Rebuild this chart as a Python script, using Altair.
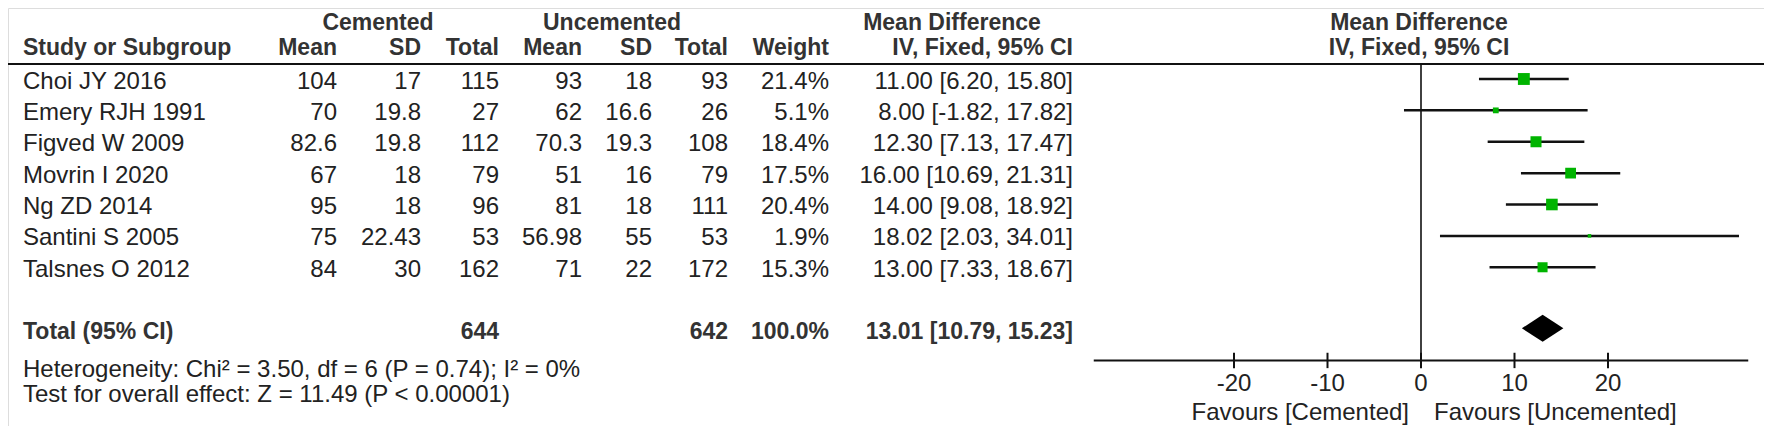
import altair as alt
import pandas as pd

# ---------------- data ----------------
studies = ["Choi JY 2016", "Emery RJH 1991", "Figved W 2009", "Movrin I 2020",
           "Ng ZD 2014", "Santini S 2005", "Talsnes O 2012"]
cem_mean = ["104", "70", "82.6", "67", "95", "75", "84"]
cem_sd = ["17", "19.8", "19.8", "18", "18", "22.43", "30"]
cem_n = ["115", "27", "112", "79", "96", "53", "162"]
unc_mean = ["93", "62", "70.3", "51", "81", "56.98", "71"]
unc_sd = ["18", "16.6", "19.3", "16", "18", "55", "22"]
unc_n = ["93", "26", "108", "79", "111", "53", "172"]
weight = [21.4, 5.1, 18.4, 17.5, 20.4, 1.9, 15.3]
md = [11.00, 8.00, 12.30, 16.00, 14.00, 18.02, 13.00]
lo = [6.20, -1.82, 7.13, 10.69, 9.08, 2.03, 7.33]
hi = [15.80, 17.82, 17.47, 21.31, 18.92, 34.01, 18.67]

total_label = "Total (95% CI)"
total_cem_n = "644"
total_unc_n = "642"
total_weight = "100.0%"
total_md, total_lo, total_hi = 13.01, 10.79, 15.23
het_text = "Heterogeneity: Chi² = 3.50, df = 6 (P = 0.74); I² = 0%"
test_text = "Test for overall effect: Z = 11.49 (P < 0.00001)"
ticks = [-20, -10, 0, 10, 20]
x_limits = [-35, 35]
favours_left = "Favours [Cemented]"
favours_right = "Favours [Uncemented]"

# ---------------- layout ----------------
W, H = 1756, 418
M = 8                       # page margin
K = (420 - 30) / (427 - 21)  # vertical squeeze so that everything fits the page


def T(ref_y):
    """reference screen y -> screen y of this page"""
    return 30 + (ref_y - 21) * K


ROW0, ROWH = T(72), 32.667 * K


def R(ref_y):
    return (T(ref_y) - ROW0) / ROWH


def X(screen_x):
    return screen_x - M


y_scale = alt.Scale(domain=[0, 6], range=[ROW0 - M, ROW0 - M + 6 * ROWH], nice=False, zero=False)
ZERO = 1421
UNIT = 9.35
x_scale = alt.Scale(domain=x_limits,
                    range=[X(ZERO) + x_limits[0] * UNIT, X(ZERO) + x_limits[1] * UNIT],
                    nice=False, zero=False)

FONT = "Liberation Sans, Arial, sans-serif"
REG = dict(font=FONT, fontSize=24, color="#222222", baseline="alphabetic")
BOLD = dict(font=FONT, fontSize=23, fontWeight="bold", color="#333333", baseline="alphabetic")

Y = alt.Y("r:Q", scale=y_scale, axis=None)

layers = []


def text_col(texts, rows, x_px, align, style):
    df = pd.DataFrame({"t": texts, "r": rows})
    return alt.Chart(df).mark_text(align=align, **style).encode(
        x=alt.value(X(x_px)), y=Y, text="t:N")


# header row 1 and 2 (reference baselines 21 / 47)
HB1, HB2 = R(21), R(47.5)
layers.append(text_col(["Cemented"], [HB1], 378, "center", BOLD))
layers.append(text_col(["Uncemented"], [HB1], 612, "center", BOLD))
layers.append(text_col(["Mean Difference"], [HB1], 952, "center", BOLD))
layers.append(text_col(["Study or Subgroup"], [HB2], 23, "left", BOLD))

cols = [337, 421, 499, 582, 652, 728, 829, 1073]
heads = ["Mean", "SD", "Total", "Mean", "SD", "Total", "Weight", "IV, Fixed, 95% CI"]
for cx, h in zip(cols, heads):
    layers.append(text_col([h], [HB2], cx, "right", BOLD))

# study rows
TB = 10 * K  # baseline offset below row centre (px)
rows = [i + TB / ROWH for i in range(len(studies))]
ci_txt = [f"{m:.2f} [{a:.2f}, {b:.2f}]" for m, a, b in zip(md, lo, hi)]
w_txt = [f"{w:.1f}%" for w in weight]
layers.append(text_col(studies, rows, 23, "left", REG))
for cx, vals in zip(cols, [cem_mean, cem_sd, cem_n, unc_mean, unc_sd, unc_n, w_txt, ci_txt]):
    layers.append(text_col(vals, rows, cx, "right", REG))

# total row
TOT_B = R(343)
layers.append(text_col([total_label], [TOT_B], 23, "left", BOLD))
layers.append(text_col([total_cem_n], [TOT_B], 499, "right", BOLD))
layers.append(text_col([total_unc_n], [TOT_B], 728, "right", BOLD))
layers.append(text_col([total_weight], [TOT_B], 829, "right", BOLD))
layers.append(text_col([f"{total_md:.2f} [{total_lo:.2f}, {total_hi:.2f}]"], [TOT_B], 1073, "right", BOLD))

layers.append(text_col([het_text], [R(382)], 23, "left", REG))
layers.append(text_col([test_text], [R(408.5)], 23, "left", REG))

# header rule
hdr = pd.DataFrame({"r": [R(56.5)]})
layers.append(alt.Chart(hdr).mark_rule(color="#111111", strokeWidth=2).encode(
    x=alt.value(0), x2=alt.value(W), y=Y))

# ---------------- forest plot ----------------
XS = lambda f: alt.X(f, scale=x_scale, axis=None)

# forest header
fh = pd.DataFrame({"x": [0, 0], "r": [HB1, HB2], "t": ["Mean Difference", "IV, Fixed, 95% CI"]})
layers.append(alt.Chart(fh).mark_text(align="center", dx=-2, **BOLD).encode(
    x=XS("x:Q"), y=Y, text="t:N"))

# zero line
zl = pd.DataFrame({"x": [0], "r": [R(56.5)], "r2": [R(365)]})
layers.append(alt.Chart(zl).mark_rule(color="#111111", strokeWidth=1.6).encode(
    x=XS("x:Q"), y=Y, y2="r2:Q"))

# CI lines
ci = pd.DataFrame({"lo": lo, "hi": hi, "md": md, "r": list(range(len(studies))),
                   "w": weight})
layers.append(alt.Chart(ci).mark_rule(color="#111111", strokeWidth=2.5).encode(
    x=XS("lo:Q"), x2="hi:Q", y=Y))
ci["sq"] = ci["w"] * 6.6
layers.append(alt.Chart(ci).mark_square(color="#00B400", opacity=1, filled=True).encode(
    x=XS("md:Q"), y=Y, size=alt.Size("sq:Q", scale=None, legend=None)))

# diamond
rc = R(331.5)
hh = 13.5 / ROWH
dm = pd.DataFrame({"x": [total_lo, total_md, total_hi],
                   "r": [rc, rc - hh, rc], "r2": [rc, rc + hh, rc]})
layers.append(alt.Chart(dm).mark_area(color="#000000", orient="vertical", opacity=1).encode(
    x=XS("x:Q"), y=Y, y2="r2:Q"))

# axis
ax = pd.DataFrame({"x": [x_limits[0]], "x2": [x_limits[1]], "r": [R(365)]})
layers.append(alt.Chart(ax).mark_rule(color="#111111", strokeWidth=2).encode(
    x=XS("x:Q"), x2="x2:Q", y=Y))
tk = pd.DataFrame({"x": ticks, "r": [R(357)] * len(ticks), "r2": [R(373)] * len(ticks),
                   "rt": [R(397)] * len(ticks), "t": [str(t) for t in ticks]})
layers.append(alt.Chart(tk).mark_rule(color="#111111", strokeWidth=2).encode(
    x=XS("x:Q"), y=Y, y2="r2:Q"))
layers.append(alt.Chart(tk).mark_text(align="center", **REG).encode(
    x=XS("x:Q"), y=alt.Y("rt:Q", scale=y_scale, axis=None), text="t:N"))

fv = pd.DataFrame({"x": [0], "r": [R(427)], "a": [favours_left], "b": [favours_right]})
layers.append(alt.Chart(fv).mark_text(align="right", dx=-12, **REG).encode(
    x=XS("x:Q"), y=Y, text="a:N"))
layers.append(alt.Chart(fv).mark_text(align="left", dx=13, **REG).encode(
    x=XS("x:Q"), y=Y, text="b:N"))

chart = alt.layer(*layers).properties(
    width=W, height=H, padding=0, autosize=alt.AutoSizeParams(type="none")
).configure_view(stroke=None).configure(background="white")

chart.save("out.html", embed_options={"renderer": "svg", "actions": False})
